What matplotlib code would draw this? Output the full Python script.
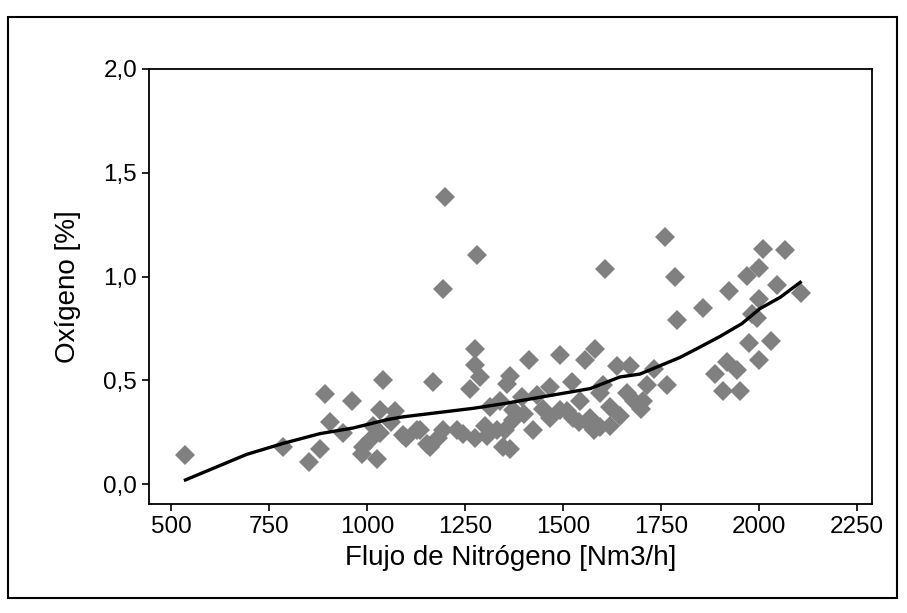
import numpy as np
import matplotlib.pyplot as plt
from matplotlib.patches import Rectangle
from matplotlib.ticker import FuncFormatter

# datos (flujo de nitrogeno vs oxigeno)
flujo = [536, 785, 852, 880, 893, 906, 940, 963, 986, 990, 1008, 1016, 1025, 1033,
         1033, 1042, 1071, 1093, 1127, 1135, 1152, 1161, 1169, 1195, 1195, 1199, 1229,
         1263, 1276, 1276, 1276, 1281, 1288, 1305, 1314, 1331, 1339, 1348, 1352, 1357,
         1365, 1365, 1373, 1373, 1414, 1424, 1433, 1467, 1467, 1491, 1492, 1522, 1526,
         1543, 1556, 1569, 1578, 1582, 1594, 1594, 1603, 1607, 1620, 1637, 1645, 1663,
         1671, 1680, 1705, 1714, 1731, 1760, 1765, 1786, 1790, 1856, 1888, 1909, 1917,
         1924, 1943, 1952, 1968, 1975, 1981, 1994, 2001, 2001, 2001, 2009, 2030, 2045,
         2067, 2107, 1060, 1100, 1180, 1245, 1400, 1450, 1510, 1560, 1620, 1700, 1540,
         1300, 1395]
oxigeno = [0.14, 0.18, 0.107, 0.17, 0.436, 0.30, 0.244, 0.40, 0.147, 0.18, 0.21, 0.28,
           0.123, 0.244, 0.356, 0.50, 0.35, 0.236, 0.26, 0.26, 0.195, 0.18, 0.49, 0.26,
           0.94, 1.385, 0.26, 0.46, 0.652, 0.572, 0.22, 1.106, 0.516, 0.23, 0.37, 0.26,
           0.40, 0.18, 0.26, 0.48, 0.52, 0.17, 0.356, 0.31, 0.60, 0.26, 0.43, 0.47, 0.32,
           0.62, 0.356, 0.49, 0.32, 0.40, 0.60, 0.32, 0.26, 0.65, 0.276, 0.44, 0.476,
           1.037, 0.37, 0.57, 0.33, 0.44, 0.57, 0.40, 0.40, 0.476, 0.556, 1.19, 0.476,
           1.0, 0.79, 0.85, 0.53, 0.45, 0.59, 0.93, 0.55, 0.45, 1.005, 0.68, 0.82, 0.80,
           1.04, 0.89, 0.60, 1.133, 0.69, 0.96, 1.13, 0.92, 0.30, 0.22, 0.22, 0.24, 0.34,
           0.36, 0.35, 0.30, 0.28, 0.36, 0.30, 0.28, 0.42]

# linea de tendencia
tend_x = [537, 693, 786, 880, 964, 1050, 1092, 1271, 1357, 1398, 1569, 1645, 1696,
          1798, 1841, 1901, 1956, 2002, 2054, 2105]
tend_y = [0.02, 0.143, 0.196, 0.243, 0.27, 0.31, 0.324, 0.365, 0.39, 0.404, 0.46,
          0.516, 0.53, 0.61, 0.652, 0.712, 0.773, 0.845, 0.90, 0.972]

plt.rcParams['font.family'] = ['Liberation Sans', 'DejaVu Sans']

fig = plt.figure(figsize=(9.07, 6.13), dpi=100)
ax = fig.add_axes([149 / 907, 1 - 504 / 613, (872 - 149) / 907, (504 - 69) / 613])

ax.plot(flujo, oxigeno, linestyle='none', marker='D', ms=10.5, color='#808080',
        markeredgewidth=0)
ax.plot(tend_x, tend_y, color='black', lw=2.4)

ax.set_xlim(444, 2288)
ax.set_ylim(-0.096, 2.0)
ax.set_xticks(np.arange(500, 2251, 250))
ax.set_yticks([0.0, 0.5, 1.0, 1.5, 2.0])
ax.yaxis.set_major_formatter(FuncFormatter(lambda v, p: f'{v:.1f}'.replace('.', ',')))
ax.tick_params(direction='out', length=5, width=1.2, labelsize=17.5, colors='black')
for s in ax.spines.values():
    s.set_linewidth(1.3)

ax.set_xlabel('Flujo de Nitrógeno [Nm3/h]', fontsize=20, labelpad=5)
ax.set_ylabel('Oxígeno [%]', fontsize=20, labelpad=16)

# marco exterior
fig.patches.append(Rectangle((8 / 907, 1 - 598 / 613), 889 / 907, 581 / 613,
                             transform=fig.transFigure, fill=False, lw=1.5,
                             edgecolor='black'))

fig.savefig('out.png', dpi=100)
